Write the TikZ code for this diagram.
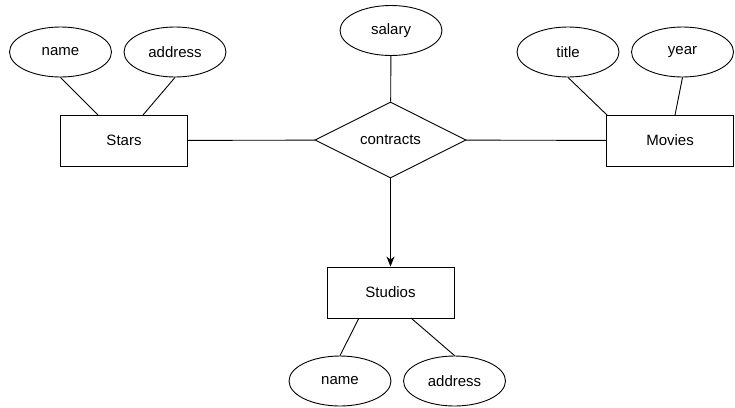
\documentclass[tikz,border=0pt]{standalone}
\usepackage{fontspec}
\setmainfont{Liberation Sans}
\usetikzlibrary{shapes.geometric,arrows.meta}
\begin{document}
\begin{tikzpicture}[x=1pt,y=-1pt,
  every node/.style={font=\fontsize{15}{18}\selectfont},
  ent/.style={draw,line width=0.9pt,minimum width=127pt,minimum height=51pt,inner sep=0pt},
  attr/.style={draw,ellipse,line width=0.9pt,minimum width=102pt,minimum height=50pt,inner sep=0pt},
  rel/.style={draw,diamond,line width=0.9pt,minimum width=151pt,minimum height=76pt,inner sep=0pt,aspect=2},
  conn/.style={line width=0.9pt}]
\useasboundingbox (0,0) rectangle (735,407);
\node[ent] (stars) at (124,140.5) {Stars};
\node[ent] (movies) at (670,140.5) {Movies};
\node[ent] (studios) at (390.5,292.5) {Studios};
\node[rel] (contracts) at (390.5,140) {contracts};
\node[attr] (sname) at (60.5,52) {name};
\node[attr] (saddr) at (175,52) {address};
\node[attr] (title) at (568,52) {title};
\node[attr] (year) at (682.5,52) {year};
\node[attr] (salary) at (391,30.5) {salary};
\node[attr] (stname) at (340,381) {name};
\node[attr] (staddr) at (454.5,381) {address};
\coordinate (a1) at (98,115);
\coordinate (a2) at (143,115);
\coordinate (a3) at (607,115);
\coordinate (a4) at (675,115);
\coordinate (a5) at (359,318);
\coordinate (a6) at (411,318);
\draw[conn] (sname.south) -- (a1);
\draw[conn] (saddr.south) -- (a2);
\draw[conn] (title.south) -- (a3);
\draw[conn] (year.south) -- (a4);
\draw[conn] (a5) -- (stname.north);
\draw[conn] (a6) -- (staddr.north);
\draw[conn] (salary) -- (contracts);
\draw[conn] (stars) -- (contracts);
\draw[conn] (contracts) -- (movies);
\draw[conn,-{Stealth[length=10pt,width=8pt,inset=3pt]}] (contracts) -- (studios);
\end{tikzpicture}
\end{document}
